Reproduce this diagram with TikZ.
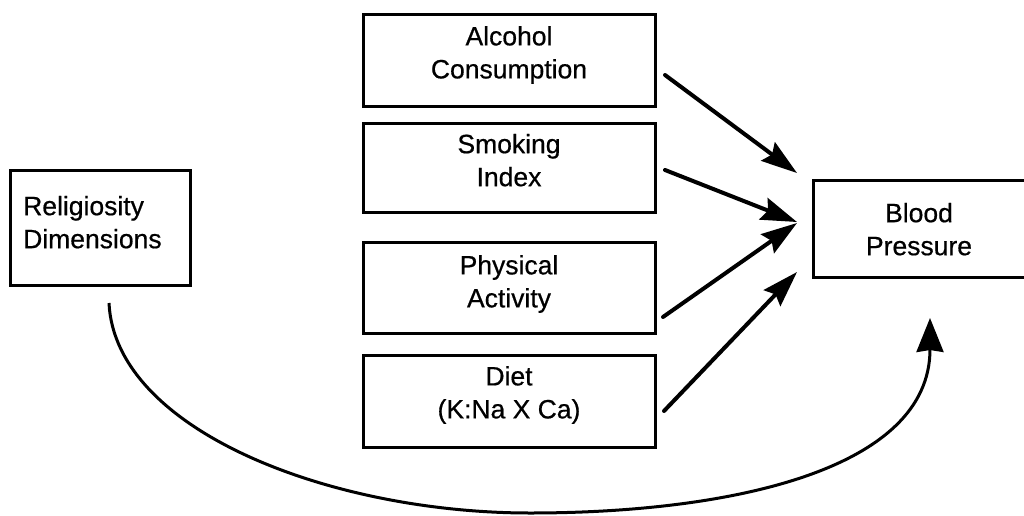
\documentclass[tikz,border=0pt]{standalone}
\usepackage{fontspec}
\setmainfont{Liberation Sans}[FakeBold=0.6]
\usetikzlibrary{arrows.meta}

\tikzset{
  boxnode/.style={draw=black, line width=3pt, rectangle, inner sep=0pt},
  lbl/.style={inner sep=0pt, align=center,
    font=\fontsize{26.5}{33}\selectfont},
  lblleft/.style={lbl, align=left},
  feed/.style={line width=4pt, line cap=round,
    -{Stealth[length=36pt, width=23pt, inset=5pt]}},
  loopback/.style={line width=3pt,
    -{Stealth[length=34pt, width=27pt, inset=2pt]}},
}

\begin{document}
\begin{tikzpicture}[x=1pt, y=-1pt]
  \useasboundingbox (0,0) rectangle (1024,516);

  % left: predictor
  \node[boxnode, minimum width=180pt, minimum height=115pt] (rel) at (100,227.5) {};
  \node[lblleft, anchor=west] (relT) at (23,222.2) {Religiosity\\Dimensions};

  % middle column: lifestyle factors
  \node[boxnode, minimum width=292pt, minimum height=92pt] (alc) at (509,61) {};
  \node[lbl] (alcT) at (509,55) {Alcohol\\Consumption};

  \node[boxnode, minimum width=292pt, minimum height=89pt] (smk) at (509,167.5) {};
  \node[lbl] (smkT) at (509,160.2) {Smoking\\Index};

  \node[boxnode, minimum width=292pt, minimum height=91pt] (phy) at (509,287.5) {};
  \node[lbl] (phyT) at (509,284) {Physical\\Activity};

  \node[boxnode, minimum width=292pt, minimum height=92pt] (diet) at (509,401) {};
  \node[lbl] (dietT) at (509,395) {Diet\\(K:Na X Ca)};

  % right: outcome
  \node[boxnode, minimum width=215pt, minimum height=97pt] (bp) at (920.5,228.5) {};
  \node[lbl] (bpT) at (919,229.2) {Blood\\Pressure};

  % arrow end points
  \coordinate (alcOut) at (665,75);
  \coordinate (smkOut) at (665,170);
  \coordinate (phyOut) at (663,317);
  \coordinate (dietOut) at (664,411);
  \coordinate (bpInA) at (797,173);
  \coordinate (bpInB) at (797,222);
  \coordinate (bpInC) at (797,223);
  \coordinate (bpInD) at (797,272);
  \coordinate (relOut) at (109,303);
  \coordinate (bpInE) at (930,318);

  \draw[feed] (alcOut) -- (bpInA);
  \draw[feed] (smkOut) -- (bpInB);
  \draw[feed] (phyOut) -- (bpInC);
  \draw[feed] (dietOut) -- (bpInD);

  % direct path underneath the column
  \draw[loopback] (relOut) .. controls (115,430) and (330,513) .. (530,513)
                           .. controls (730,513) and (930,470) .. (bpInE);
\end{tikzpicture}
\end{document}
